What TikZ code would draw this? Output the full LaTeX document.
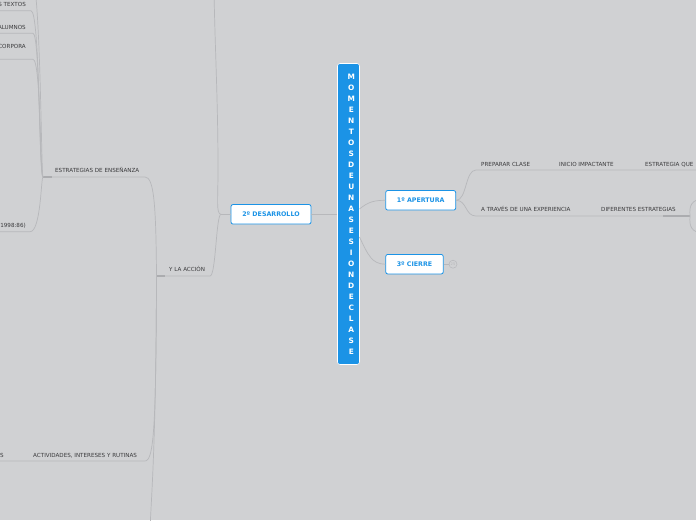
\documentclass[tikz,border=0pt]{standalone}
\usepackage{fontspec}
\setmainfont{DejaVu Sans}
\definecolor{mapbg}{HTML}{D0D1D3}
\definecolor{mapblue}{HTML}{1B93E6}
\definecolor{mapline}{HTML}{B7B8BB}
\definecolor{mapstem}{HTML}{ABACAF}
\definecolor{maptext}{HTML}{3A3A3C}
\tikzset{
  rootbox/.style={fill=mapblue,draw=white,line width=0.6pt,rounded corners=2.5pt,minimum width=22pt,minimum height=301pt,inner sep=0pt},
  rootletters/.style={text=white,font=\bfseries\fontsize{7.4}{11}\selectfont,align=center,inner sep=0pt},
  topic/.style={draw=mapblue,fill=white,line width=0.8pt,rounded corners=2pt,text=mapblue,font=\bfseries\fontsize{6.3}{7}\selectfont,minimum height=19.5pt,inner sep=0pt},
  leaf/.style={text=maptext,font=\fontsize{5.6}{6}\selectfont,inner sep=0pt,anchor=base west},
  link/.style={draw=mapline,line width=0.7pt},
  stem/.style={draw=mapstem,line width=1.4pt}
}
\begin{document}
\begin{tikzpicture}[x=1pt,y=-1pt]
\fill[mapbg] (0,0) rectangle (696,520);
\useasboundingbox (0,0) rectangle (696,520);

% centre
\node[rootbox] (root) at (348.5,214) {};
\node[rootletters] (title) at (351.3,214.5) {M\\O\\M\\E\\N\\T\\O\\S\\D\\E\\U\\N\\A\\S\\E\\S\\I\\O\\N\\D\\E\\C\\L\\A\\S\\E};
\node[topic,minimum width=80pt] (desarrollo) at (271,214.3) {2º DESARROLLO};
\node[topic,minimum width=70pt] (apertura) at (420.7,200.3) {1º APERTURA};
\node[topic,minimum width=57.5pt] (cierre) at (414.5,264.2) {3º CIERRE};
\node[circle,draw=mapline,line width=0.5pt,minimum size=8pt,inner sep=0pt,text=mapline,font=\fontsize{3.6}{4}\selectfont] (cierremore) at (453,264.2) {25};
\coordinate (rootA) at (359.5,209); \coordinate (rootC) at (359.5,237);
\draw[link] (desarrollo.east) -- (desarrollo.east -| root.west);
\draw[link] (rootA) .. controls (368,202) and (374,200.3) .. (apertura.west);
\draw[link] (rootC) .. controls (368,255) and (372,264.2) .. (cierre.west);
\draw[link] (cierre.east) -- (cierremore.west);

% 1º apertura
\coordinate (prepL) at (476,170); \coordinate (prepR) at (700,170);
\coordinate (expL) at (476,216); \coordinate (expR) at (690,216);
\draw[link] (apertura.east) .. controls (467,200.3) and (465,170) .. (prepL) -- (prepR);
\draw[link] (apertura.east) .. controls (467,200.3) and (465,216) .. (expL) -- (expR);
\draw[stem] (663,216) -- (expR);
\draw[link] (expR) .. controls (689,205) and (692,200) .. (702,199);
\draw[link] (expR) .. controls (689,227) and (692,232) .. (702,233);
\node[leaf] (preparar) at (481,166) {PREPARAR CLASE};
\node[leaf] (inicio) at (559,166) {INICIO IMPACTANTE};
\node[leaf] (estrategia) at (645,166) {ESTRATEGIA QUE};
\node[leaf] (experiencia) at (481,211.8) {A TRAVÉS DE UNA EXPERIENCIA};
\node[leaf] (diferentes) at (601,211.8) {DIFERENTES ESTRATEGIAS};

% 2º desarrollo
\coordinate (desJ) at (221,214.3);
\coordinate (accionL) at (156.5,276); \coordinate (accionR) at (210,276);
\coordinate (ensL) at (43,177); \coordinate (ensR) at (145,177);
\coordinate (actL) at (0,461); \coordinate (actR) at (145,461);
\draw[link] (desarrollo.west) -- (desJ);
\draw[link] (desJ) .. controls (216,214) and (218,200) .. (218,170) .. controls (218,100) and (215,50) .. (214,-10);
\draw[link] (desJ) .. controls (216,214.3) and (216,276) .. (accionR) -- (accionL);
\draw[stem] (accionL) -- (165,276);
\draw[link] (accionL) .. controls (156,205) and (154,177) .. (ensR) -- (ensL);
\draw[stem] (ensL) -- (52,177);
\draw[link] (accionL) .. controls (156,425) and (154,461) .. (actR) -- (actL);
\draw[link] (accionL) .. controls (156,450) and (151,500) .. (150,530);
\node[leaf] (accion) at (169,271.7) {Y LA ACCIÓN};
\node[leaf] (ensenanza) at (55,172.7) {ESTRATEGIAS DE ENSEÑANZA};
\node[leaf] (actividades) at (33,457.7) {ACTIVIDADES, INTERESES Y RUTINAS};
\node[leaf,anchor=base east] (actmas) at (4,457.7) {S};

% estrategias de enseñanza
\coordinate (textosR) at (31,10.7); \coordinate (textosL) at (-5,10.7);
\coordinate (alumnosR) at (33,33.3); \coordinate (alumnosL) at (-5,33.3);
\coordinate (corporaR) at (33,59.3); \coordinate (corporaL) at (-5,59.3);
\coordinate (citaR) at (30,231.7); \coordinate (citaL) at (-5,231.7);
\draw[link] (ensL) .. controls (41,177) and (41,-30) .. (30,-30);
\draw[link] (ensL) .. controls (39,177) and (40,10.7) .. (textosR) -- (textosL);
\draw[link] (ensL) .. controls (39,177) and (40,33.3) .. (alumnosR) -- (alumnosL);
\draw[link] (ensL) .. controls (40,177) and (41,59.3) .. (corporaR) -- (corporaL);
\draw[link] (ensL) .. controls (41,177) and (41,231.7) .. (citaR) -- (citaL);
\node[leaf,anchor=base east] (textos) at (26,6.7) {S TEXTOS};
\node[leaf,anchor=base east] (alumnos) at (26,29.3) {ALUMNOS};
\node[leaf,anchor=base east] (corpora) at (26,48.3) {CORPORA};
\node[leaf,anchor=base east] (cita) at (26,227.7) {(1998:86)};
\end{tikzpicture}
\end{document}
